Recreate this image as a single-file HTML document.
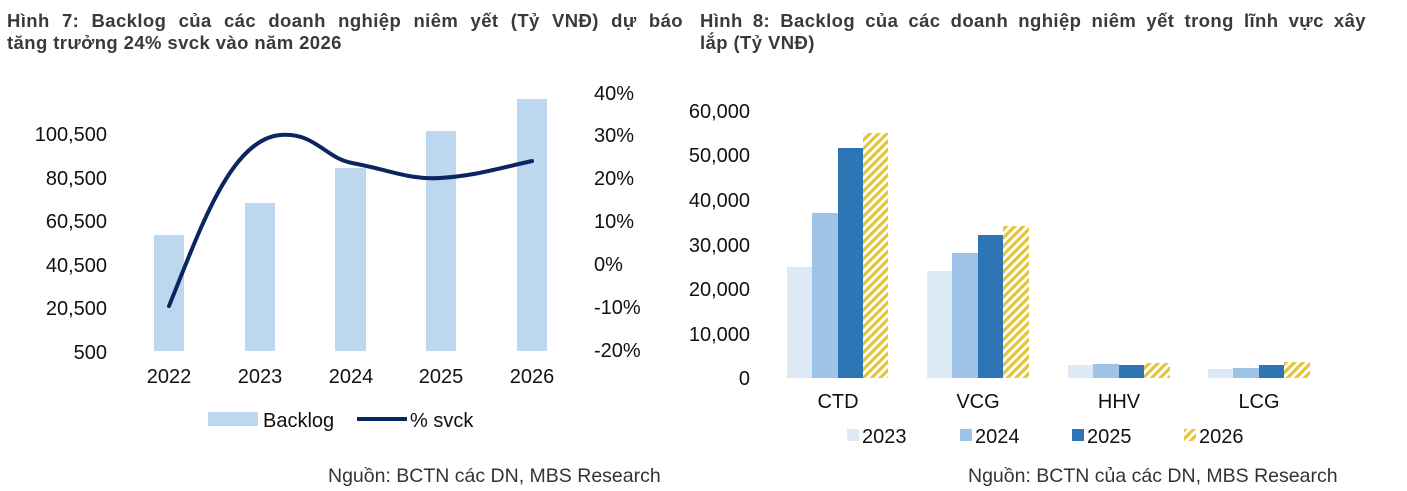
<!DOCTYPE html>
<html><head><meta charset="utf-8"><style>
body{margin:0;width:1407px;height:491px;background:#fff;font-family:"Liberation Sans",sans-serif;overflow:hidden}
.t{position:absolute;font-weight:bold;font-size:18.5px;letter-spacing:0.4px;color:#3a3a3a;line-height:22px}
.j{text-align:justify;text-align-last:justify}
</style></head><body>
<div class="t" style="left:7px;top:10px;width:676px;"><div class="j">Hình 7: Backlog của các doanh nghiệp niêm yết (Tỷ VNĐ) dự báo</div><div>tăng trưởng 24% svck vào năm 2026</div></div>
<div class="t" style="left:700px;top:10px;width:666px;"><div class="j">Hình 8: Backlog của các doanh nghiệp niêm yết trong lĩnh vực xây</div><div>lắp (Tỷ VNĐ)</div></div>
<svg width="1407" height="491" style="position:absolute;left:0;top:0" font-family="Liberation Sans, sans-serif" font-size="20" fill="#111">
<defs><pattern id="h" width="6" height="6" patternUnits="userSpaceOnUse" patternTransform="rotate(45)"><rect width="6" height="6" fill="#fff"/><rect width="3.2" height="6" fill="#e3c53a"/></pattern></defs>
<g text-anchor="end">
<text x="107" y="141">100,500</text><text x="107" y="185">80,500</text><text x="107" y="228">60,500</text><text x="107" y="272">40,500</text><text x="107" y="315">20,500</text><text x="107" y="359">500</text>
</g>
<g>
<text x="594" y="100">40%</text><text x="594" y="142">30%</text><text x="594" y="185">20%</text><text x="594" y="228">10%</text><text x="594" y="271">0%</text><text x="594" y="314">-10%</text><text x="594" y="357">-20%</text>
</g>
<g fill="#bdd7ee">
<rect x="154" y="235" width="30" height="116"/><rect x="245" y="203" width="30" height="148"/><rect x="335" y="168" width="31" height="183"/><rect x="426" y="131" width="30" height="220"/><rect x="517" y="99" width="30" height="252"/>
</g>
<path d="M169,306 C200,230 230,140 280,135 C315,132 325,158 352,163 C390,170 410,180 440,178 C475,176 500,168 532,161" fill="none" stroke="#0b2560" stroke-width="4" stroke-linecap="round"/>
<g text-anchor="middle"><text x="169" y="383">2022</text><text x="260" y="383">2023</text><text x="351" y="383">2024</text><text x="441" y="383">2025</text><text x="532" y="383">2026</text></g>
<rect x="208" y="412" width="50" height="14" fill="#bdd7ee"/><text x="263" y="427">Backlog</text>
<line x1="357" y1="419" x2="407" y2="419" stroke="#0b2560" stroke-width="4"/><text x="410" y="427">% svck</text>
<text x="328" y="482" fill="#333" font-size="19.5">Nguồn: BCTN các DN, MBS Research</text>

<g text-anchor="end">
<text x="750" y="118">60,000</text><text x="750" y="162">50,000</text><text x="750" y="207">40,000</text><text x="750" y="252">30,000</text><text x="750" y="296">20,000</text><text x="750" y="341">10,000</text><text x="750" y="385">0</text>
</g>
<g>
<rect x="787" y="267" width="25" height="111" fill="#dde9f5"/><rect x="812" y="213" width="26" height="165" fill="#9dc3e6"/><rect x="838" y="148" width="25" height="230" fill="#2e75b6"/><rect x="863" y="133" width="25" height="245" fill="url(#h)"/>
<rect x="927" y="271" width="25" height="107" fill="#dde9f5"/><rect x="952" y="253" width="26" height="125" fill="#9dc3e6"/><rect x="978" y="235" width="25" height="143" fill="#2e75b6"/><rect x="1003" y="226" width="26" height="152" fill="url(#h)"/>
<rect x="1068" y="365" width="25" height="13" fill="#dde9f5"/><rect x="1093" y="364" width="26" height="14" fill="#9dc3e6"/><rect x="1119" y="365" width="25" height="13" fill="#2e75b6"/><rect x="1144" y="363" width="26" height="15" fill="url(#h)"/>
<rect x="1208" y="369" width="25" height="9" fill="#dde9f5"/><rect x="1233" y="368" width="26" height="10" fill="#9dc3e6"/><rect x="1259" y="365" width="25" height="13" fill="#2e75b6"/><rect x="1284" y="362" width="26" height="16" fill="url(#h)"/>
</g>
<g text-anchor="middle"><text x="838" y="408">CTD</text><text x="978" y="408">VCG</text><text x="1119" y="408">HHV</text><text x="1259" y="408">LCG</text></g>
<rect x="847" y="429" width="12" height="12" fill="#dde9f5"/><text x="862" y="443">2023</text>
<rect x="960" y="429" width="12" height="12" fill="#9dc3e6"/><text x="975" y="443">2024</text>
<rect x="1072" y="429" width="12" height="12" fill="#2e75b6"/><text x="1087" y="443">2025</text>
<rect x="1184" y="429" width="12" height="12" fill="url(#h)"/><text x="1199" y="443">2026</text>
<text x="968" y="482" fill="#333" font-size="19.5">Nguồn: BCTN của các DN, MBS Research</text>
</svg>
</body></html>
